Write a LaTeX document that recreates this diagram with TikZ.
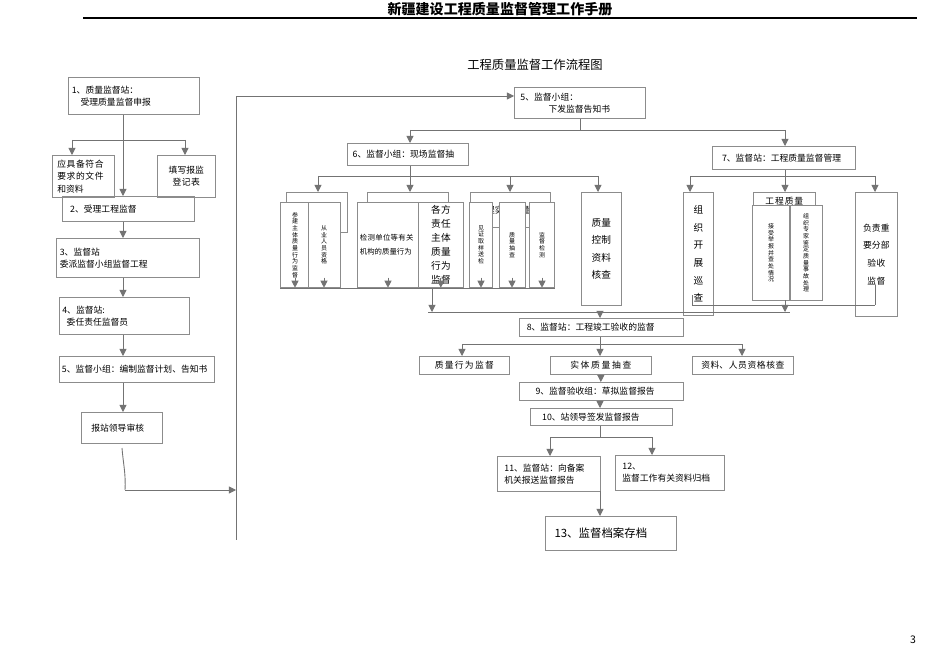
\documentclass[tikz,border=0pt]{standalone}
\usepackage{fontspec}
\setmainfont{Noto Sans CJK SC}
\XeTeXlinebreaklocale "zh"
\XeTeXlinebreakskip=0pt plus 1pt
\usetikzlibrary{arrows.meta,positioning}
\newdimen\px \px=0.02cm
\tikzset{
  box/.style={draw=black!45, inner sep=1.5pt, font=\fontsize{5}{7}\selectfont, align=left},
  vbox/.style={draw=black!45, inner sep=1pt, font=\fontsize{3.4}{3.8}\selectfont, anchor=north, text width=4pt, align=center},
  link/.style={draw=black!55, line width=0.5pt},
  arr/.style={link, -{Triangle[length=4pt,width=4pt]}}
}
\begin{document}
\begin{tikzpicture}[x=\px, y=-\px]
\useasboundingbox (0,0) rectangle (950,672);
% header
\node (head) at (500,9) {\fontsize{8}{9}\selectfont\bfseries 新疆建设工程质量监督管理工作手册};
\draw[line width=0.8pt] (83,18) -- (917,18);
\node (title) at (535,65) {\fontsize{7}{8}\selectfont 工程质量监督工作流程图};
\node (page) at (913,640) {\fontsize{6}{7}\selectfont 3};

% left column
\node (b1) [box, minimum width=131*\px, minimum height=37*\px, anchor=north west, text width=124*\px] at (68,77) {1、质量监督站：\\\hspace{1em}受理质量监督申报};
\node (b1a) [box, minimum width=62*\px, minimum height=42*\px, anchor=north west, text width=52*\px, inner xsep=1pt] at (52,155) {应具备符合要求的文件和资料};
\node (b1b) [box, minimum width=58*\px, minimum height=42*\px, anchor=north west, text width=36*\px, align=center] at (157,155) {填写报监登记表};
\node (b2) [box, minimum width=132*\px, minimum height=25*\px, anchor=north west, text width=125*\px] at (62,196) {\hspace{0.5em}2、受理工程监督};
\node (b3) [box, minimum width=143*\px, minimum height=39*\px, anchor=north west, text width=136*\px] at (56,238) {3、监督站\\委派监督小组监督工程};
\node (b4) [box, minimum width=130*\px, minimum height=37*\px, anchor=north west, text width=124*\px] at (59,297) {4、监督站:\\\hspace{0.5em}委任责任监督员};
\node (b5) [box, minimum width=155*\px, minimum height=26*\px, anchor=north west, text width=150*\px] at (59,356) {5、监督小组：编制监督计划、告知书};
\node (b6) [box, minimum width=81*\px, minimum height=31*\px, anchor=north west, text width=75*\px] at (81,412) {\hspace{0.8em}报站领导审核};
\coordinate (c1) at (123,140);
\coordinate (l1) at (72,140);
\coordinate (r1) at (185,140);
\draw[link] (b1.south -| c1) -- (c1);
\draw[link] (l1) -- (r1);
\draw[arr] (l1) -- (l1 |- b1a.north);
\draw[arr] (r1) -- (r1 |- b1b.north);
\draw[arr] (c1) -- (c1 |- b2.north);
\draw[arr] (b2.south -| c1) -- (b3.north -| c1);
\draw[arr] (b3.south -| c1) -- (b4.north -| c1);
\draw[arr] (b4.south -| c1) -- (b5.north -| c1);
\draw[arr] (b5.south -| c1) -- (b6.north -| c1);
\coordinate (w1) at (122,448);
\coordinate (w2) at (125,490);
\coordinate (j1) at (236,490);
\coordinate (j0) at (236,96);
\coordinate (j2) at (236,540);
\draw[link] (w1) .. controls (123,462) and (126,474) .. (w2);
\draw[arr] (w2) -- (j1);
\draw[link] (j1) -- (j2);
\draw[link] (j1) -- (j0);

% right part
\node (r5) [box, minimum width=131*\px, minimum height=31*\px, anchor=north west, text width=124*\px] at (514,87) {\hspace{0.3em}5、监督小组：\\\hspace{3.5em}下发监督告知书};
\draw[arr] (j0) -- (r5.west |- j0);
\node (r6) [box, minimum width=121*\px, minimum height=22*\px, anchor=north west, text width=116*\px] at (347,143) {\hspace{0.3em}6、监督小组：现场监督抽};
\node (r7) [box, minimum width=143*\px, minimum height=23*\px, anchor=north west, text width=138*\px] at (712,146) {\hspace{0.8em}7、监督站：工程质量监督管理};
\coordinate (s5) at (580,130);
\draw[link] (r5.south -| s5) -- (s5);
\draw[link] (410,130) -- (785,130);
\draw[arr] (410,130) -- (410,143);
\draw[arr] (785,130) -- (785,146);

% branch 6
\draw[link] (r6.south -| 410,0) -- (410,176);
\draw[link] (318,176) -- (598,176);
\foreach \xx in {318,410,510,598} \draw[arr] (\xx,176) -- (\xx,192);
\node (ga) [box, minimum width=61*\px, minimum height=40*\px, anchor=north west, text width=55*\px, inner sep=0.5pt] at (286,192) {\hspace{0.3em}资质、资格};
\node (gb) [box, minimum width=81*\px, minimum height=35*\px, anchor=north west, text width=75*\px, inner sep=0.5pt] at (367,192) {\hspace{1em}质量行为监督};
\node (gc) [box, minimum width=80*\px, minimum height=35*\px, anchor=north west, text width=75*\px, inner sep=0.5pt] at (470,192) {\hspace{0.5em}工程实体质量};
\node (va1) [vbox, minimum width=30*\px, minimum height=85*\px, fill=white] at (295,202) {参建主体质量行为监督};
\node (va2) [vbox, minimum width=32*\px, minimum height=85*\px, fill=white] at (324,202) {从业人员资格};
\node (vb1) [box, minimum width=61*\px, minimum height=85*\px, anchor=north west, text width=56*\px, fill=white, font=\fontsize{4.2}{8}\selectfont] at (357,202) {检测单位等有关机构的质量行为};
\node (vb2) [box, minimum width=45*\px, minimum height=85*\px, anchor=north west, text width=28*\px, fill=white, align=center, font=\fontsize{5.5}{8}\selectfont] at (418,202) {各方责任主体质量行为监督};
\node (vc1) [vbox, minimum width=23*\px, minimum height=85*\px, fill=white] at (481,202) {见证取样送检};
\node (vc2) [vbox, minimum width=26*\px, minimum height=85*\px, fill=white] at (512,202) {质量抽查};
\node (vc3) [vbox, minimum width=25*\px, minimum height=85*\px, fill=white] at (542,202) {监督检测};
\node (qc) [box, minimum width=40*\px, minimum height=113*\px, anchor=north west, text width=24*\px, align=center, font=\fontsize{5.5}{10}\selectfont] at (581,192) {质量控制资料核查};
\foreach \n in {va1,va2,vb1,vb2,vc1,vc2,vc3} \draw[arr] (\n.south) ++(0,-10) -- (\n.south);
\draw[link] (280,288) -- (555,288);
\draw[link] (432,288) -- (432,297);
\draw[arr] (432,297) -- (432,312);

% branch 7
\draw[link] (r7.south -| 785,0) -- (785,176);
\draw[link] (690,176) -- (875,176);
\foreach \xx in {690,785,875} \draw[arr] (\xx,176) -- (\xx,192);
\node (gd) [box, minimum width=30*\px, minimum height=123*\px, anchor=north west, text width=14*\px, align=center, font=\fontsize{5.5}{10}\selectfont] at (683,192) {组织开展巡查};
\node (ge) [box, minimum width=62*\px, minimum height=30*\px, anchor=north west, text width=56*\px, align=center, inner sep=0.5pt] at (753,192) {工程质量投诉处};
\node (ve1) [vbox, minimum width=37*\px, minimum height=95*\px, fill=white] at (771,205) {接受举报并查处情况};
\node (ve2) [vbox, minimum width=32*\px, minimum height=95*\px, fill=white] at (806,205) {组织专家鉴定质量事故处理};
\node (gf) [box, minimum width=42*\px, minimum height=124*\px, anchor=north west, text width=30*\px, align=center, font=\fontsize{5}{10}\selectfont] at (855,192) {负责重要分部验收监督};
\draw[link] (692,305) -- (875,305);
\draw[link] (692,295) -- (692,305);
\draw[link] (875,285) -- (875,305);
\draw[arr] (785,300) -- (785,312);
\draw[link] (428,312) -- (790,312);

% acceptance
\node (r8) [box, minimum width=164*\px, minimum height=18*\px, anchor=north west, text width=158*\px] at (519,318) {\hspace{0.5em}8、监督站：工程竣工验收的监督};
\draw[arr] (600,312) -- (r8.north -| 600,0);
\draw[link] (r8.south -| 600,0) -- (600,344);
\draw[link] (462,344) -- (742,344);
\node (r8a) [box, minimum width=90*\px, minimum height=18*\px, anchor=north west, align=center, text width=84*\px] at (419,356) {质量行为监督};
\node (r8b) [box, minimum width=101*\px, minimum height=18*\px, anchor=north west, align=center, text width=95*\px] at (550,356) {实体质量抽查};
\node (r8c) [box, minimum width=101*\px, minimum height=18*\px, anchor=north west, align=center, text width=95*\px] at (692,356) {资料、人员资格核查};
\foreach \xx in {462,600,742} \draw[arr] (\xx,344) -- (\xx,356);
\node (r9) [box, minimum width=164*\px, minimum height=18*\px, anchor=north west, text width=158*\px] at (519,382) {\hspace{1.5em}9、监督验收组：草拟监督报告};
\draw[arr] (r8b.south) -- (r9.north -| r8b.south);
\node (r10) [box, minimum width=142*\px, minimum height=17*\px, anchor=north west, text width=136*\px] at (530,408) {\hspace{1em}10、站领导签发监督报告};
\draw[arr] (r9.south -| 600,0) -- (r10.north -| 600,0);
\node (r11) [box, minimum width=103*\px, minimum height=35*\px, anchor=north west, text width=98*\px] at (497,456) {\hspace{0.5em}11、监督站：向备案\\\hspace{0.5em}机关报送监督报告};
\node (r12) [box, minimum width=109*\px, minimum height=35*\px, anchor=north west, text width=104*\px] at (615,455) {\hspace{0.5em}12、\\\hspace{0.5em}监督工作有关资料归档};
\draw[link] (r10.south -| 600,0) -- (600,437);
\draw[link] (550,437) -- (652,437);
\draw[arr] (550,437) -- (r11.north -| 550,0);
\draw[arr] (652,437) -- (r12.north -| 652,0);
\node (r13) [box, minimum width=131*\px, minimum height=34*\px, anchor=north west, text width=124*\px, font=\fontsize{6.5}{8}\selectfont] at (545,516) {\hspace{0.5em}13、监督档案存档};
\draw[arr] (600,491) -- (r13.north -| 600,0);
\end{tikzpicture}
\end{document}
